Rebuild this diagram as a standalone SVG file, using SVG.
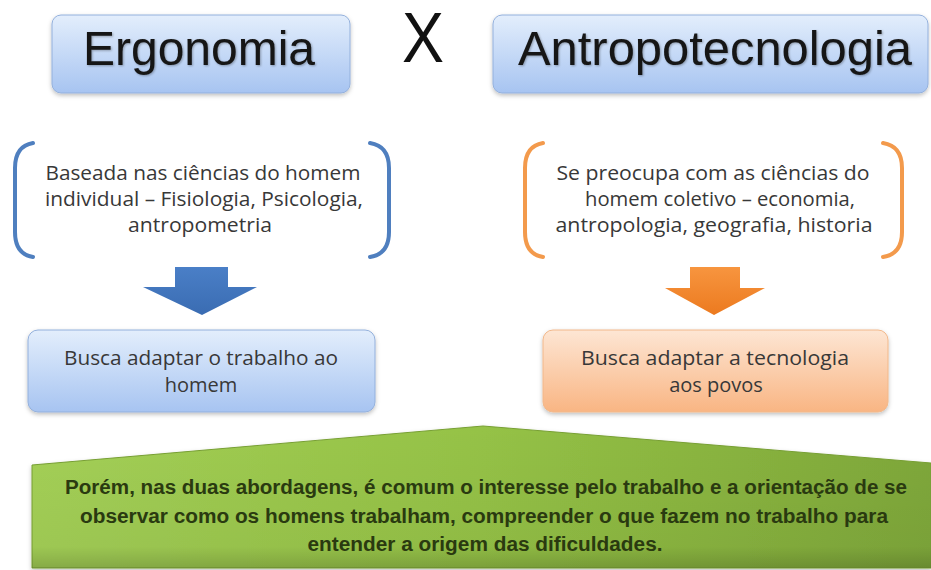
<svg xmlns="http://www.w3.org/2000/svg" width="931" height="570" viewBox="0 0 931 570">
<defs>
  <linearGradient id="gBlue" x1="0" y1="0" x2="0" y2="1">
    <stop offset="0" stop-color="#e3eefc"/>
    <stop offset="1" stop-color="#a7c4f1"/>
  </linearGradient>
  <linearGradient id="gOrange" x1="0" y1="0" x2="0" y2="1">
    <stop offset="0" stop-color="#fde6d4"/>
    <stop offset="1" stop-color="#f9b583"/>
  </linearGradient>
  <linearGradient id="gArrowBlue" x1="0" y1="0" x2="0" y2="1">
    <stop offset="0" stop-color="#4a7fc7"/>
    <stop offset="1" stop-color="#3a6cb2"/>
  </linearGradient>
  <linearGradient id="gArrowOrange" x1="0" y1="0" x2="0" y2="1">
    <stop offset="0" stop-color="#f7953f"/>
    <stop offset="1" stop-color="#ec7a1f"/>
  </linearGradient>
  <linearGradient id="gGreen" x1="0" y1="0" x2="1" y2="0">
    <stop offset="0" stop-color="#a4d057"/>
    <stop offset="0.5" stop-color="#95c246"/>
    <stop offset="1" stop-color="#7fa83a"/>
  </linearGradient>
  <linearGradient id="gGreenShade" x1="0" y1="0" x2="0" y2="1">
    <stop offset="0" stop-color="#000" stop-opacity="0"/>
    <stop offset="0.85" stop-color="#000" stop-opacity="0.04"/>
    <stop offset="1" stop-color="#000" stop-opacity="0.18"/>
  </linearGradient>
  <filter id="shadow" x="-10%" y="-10%" width="120%" height="140%">
    <feDropShadow dx="0" dy="2" stdDeviation="2" flood-color="#000" flood-opacity="0.25"/>
  </filter>
  <filter id="tshadow" x="-5%" y="-10%" width="110%" height="130%">
    <feDropShadow dx="1" dy="1" stdDeviation="0.8" flood-color="#000" flood-opacity="0.3"/>
  </filter>
</defs>
<style>
  .title { font-family: "Liberation Sans", Arial, sans-serif; font-size: 48px; fill: #151515; text-anchor: middle; }
  .body { font-family: "Open Sans", "Liberation Sans", sans-serif; font-size: 20px; fill: #383838; text-anchor: middle; }
  .green { font-family: "Liberation Sans", Arial, sans-serif; font-size: 20px; font-weight: bold; fill: #2a3a10; text-anchor: middle; }
  .blueBox { fill: url(#gBlue); stroke: #93b0dc; stroke-width: 1; }
  .orangeBox { fill: url(#gOrange); stroke: #f2b88a; stroke-width: 1; }
  .bracketBlue { fill: none; stroke: #4f7fbf; stroke-width: 4; stroke-linecap: round; }
  .bracketOrange { fill: none; stroke: #f39a4c; stroke-width: 4; stroke-linecap: round; }
</style>
<rect width="931" height="570" fill="#ffffff"/>

<g id="ergonomia">
  <rect class="blueBox" x="52" y="15" width="298" height="78" rx="9" filter="url(#shadow)"/>
  <text class="title" x="199" y="65" filter="url(#tshadow)">Ergonomia</text>
</g>

<g id="x-sign">
  <text x="423" y="62" font-family="Liberation Sans, Arial, sans-serif" font-size="70" fill="#111" text-anchor="middle" textLength="42" lengthAdjust="spacingAndGlyphs">X</text>
</g>

<g id="antropotecnologia">
  <rect class="blueBox" x="493" y="15" width="435" height="78" rx="9" filter="url(#shadow)"/>
  <text class="title" x="715" y="65" textLength="394" lengthAdjust="spacingAndGlyphs" filter="url(#tshadow)">Antropotecnologia</text>
</g>

<g id="ergonomia-ciencias">
  <path class="bracketBlue" d="M33 143 Q15 146 15 168 L15 232 Q15 254 33 257"/>
  <path class="bracketBlue" d="M370 143 Q389 146 389 168 L389 232 Q389 254 370 257"/>
  <text class="body" x="203" y="180" textLength="315" lengthAdjust="spacingAndGlyphs">Baseada nas ciências do homem</text>
  <text class="body" x="204" y="206" textLength="318" lengthAdjust="spacingAndGlyphs">individual – Fisiologia, Psicologia,</text>
  <text class="body" x="200" y="232" textLength="144" lengthAdjust="spacingAndGlyphs">antropometria</text>
</g>

<g id="antropo-ciencias">
  <path class="bracketOrange" d="M543 143 Q525 146 525 168 L525 232 Q525 254 543 257"/>
  <path class="bracketOrange" d="M883 143 Q902 146 902 168 L902 232 Q902 254 883 257"/>
  <text class="body" x="713" y="180" textLength="313" lengthAdjust="spacingAndGlyphs">Se preocupa com as ciências do</text>
  <text class="body" x="720" y="206" textLength="270" lengthAdjust="spacingAndGlyphs">homem coletivo – economia,</text>
  <text class="body" x="714" y="232" textLength="317" lengthAdjust="spacingAndGlyphs">antropologia, geografia, historia</text>
</g>

<g id="connectors">
  <polygon points="175,267 228,267 228,287 257,287 202,315 143,287 175,287" fill="url(#gArrowBlue)"/>
  <polygon points="690,267 740,267 740,288 765,288 714,315 665,288 690,288" fill="url(#gArrowOrange)"/>
</g>

<g id="busca-homem">
  <rect class="blueBox" x="28" y="330" width="347" height="82" rx="10" filter="url(#shadow)"/>
  <text class="body" x="201" y="365" textLength="274" lengthAdjust="spacingAndGlyphs">Busca adaptar o trabalho ao</text>
  <text class="body" x="201" y="392">homem</text>
</g>

<g id="busca-povos">
  <rect class="orangeBox" x="543" y="330" width="345" height="82" rx="10" filter="url(#shadow)"/>
  <text class="body" x="715" y="365" textLength="268" lengthAdjust="spacingAndGlyphs">Busca adaptar a tecnologia</text>
  <text class="body" x="716" y="392">aos povos</text>
</g>

<g id="conclusao">
  <polygon points="32,465 483,426 931,463 931,568 32,568" fill="url(#gGreen)" stroke="#78a034" stroke-width="1" filter="url(#shadow)"/>
  <polygon points="32,465 483,426 931,463 931,568 32,568" fill="url(#gGreenShade)"/>
  <text class="green" x="486" y="494" textLength="842" lengthAdjust="spacingAndGlyphs">Porém, nas duas abordagens, é comum o interesse pelo trabalho e a orientação de se</text>
  <text class="green" x="484" y="523" textLength="808" lengthAdjust="spacingAndGlyphs">observar como os homens trabalham, compreender o que fazem no trabalho para</text>
  <text class="green" x="485" y="551" textLength="355" lengthAdjust="spacingAndGlyphs">entender a origem das dificuldades.</text>
</g>
</svg>
